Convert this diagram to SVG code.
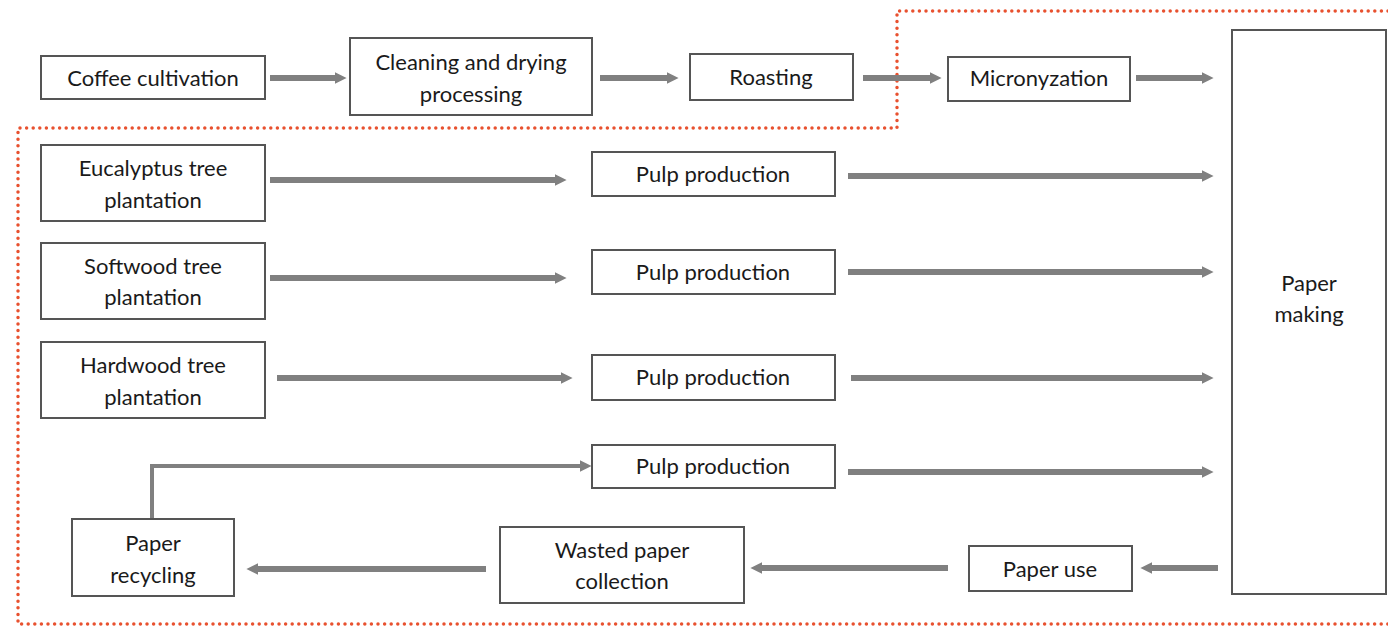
<svg xmlns="http://www.w3.org/2000/svg" width="1388" height="628" viewBox="0 0 1388 628">
<defs>
<style>
.box{fill:#fff;stroke:#555;stroke-width:2}
.t{font-family:Lato,"Open Sans","Liberation Sans",sans-serif;font-size:22px;fill:#1a1a1a;text-anchor:middle;dominant-baseline:central}
.a{stroke:#808080;stroke-width:6;fill:none;marker-end:url(#ah)}
.thin{stroke:#808080;stroke-width:4;fill:none}
.dot{fill:none;stroke:#e8512f;stroke-width:3.5;stroke-linecap:round;stroke-dasharray:0 6.6}
</style>
<marker id="ah" viewBox="0 0 10 10" refX="2" refY="5" markerWidth="2" markerHeight="2" orient="auto" markerUnits="strokeWidth">
<path d="M0,0 L10,5 L0,10 Z" fill="#808080"/>
</marker>
<marker id="ah2" viewBox="0 0 10 10" refX="2" refY="5" markerWidth="3" markerHeight="3" orient="auto" markerUnits="strokeWidth">
<path d="M0,0 L10,5 L0,10 Z" fill="#808080"/>
</marker>
</defs>
<rect width="1388" height="628" fill="#fff"/>
<g id="boundary">
<path class="dot" d="M1388,11 L897,11 L897,128 L18,128 L18,624 L1388,624"/>
</g>
<g id="connectors">
<line class="a" x1="270" y1="78" x2="337" y2="78"/>
<line class="a" x1="600" y1="78" x2="669" y2="78"/>
<line class="a" x1="863" y1="78" x2="932" y2="78"/>
<line class="a" x1="1136" y1="78" x2="1204" y2="78"/>
<line class="a" x1="270" y1="180" x2="557" y2="180"/>
<line class="a" x1="848" y1="176" x2="1204" y2="176"/>
<line class="a" x1="270" y1="278" x2="557" y2="278"/>
<line class="a" x1="848" y1="272" x2="1204" y2="272"/>
<line class="a" x1="277" y1="378" x2="563" y2="378"/>
<line class="a" x1="851" y1="378" x2="1204" y2="378"/>
<line class="a" x1="848" y1="472" x2="1204" y2="472"/>
<path class="thin" d="M152,519 L152,466 L582,466" marker-end="url(#ah2)"/>
<line class="a" x1="1218" y1="568" x2="1150" y2="568"/>
<line class="a" x1="948" y1="568" x2="760" y2="568"/>
<line class="a" x1="486" y1="569" x2="256" y2="569"/>
</g>
<g id="coffee-cultivation"><rect class="box" x="41" y="56" width="224" height="43"/><text class="t" x="153" y="77">Coffee cultivation</text></g>
<g id="cleaning"><rect class="box" x="350" y="38" width="242" height="77"/><text class="t" x="471" y="61">Cleaning and drying</text><text class="t" x="471" y="93">processing</text></g>
<g id="roasting"><rect class="box" x="690" y="54" width="163" height="46"/><text class="t" x="771" y="76">Roasting</text></g>
<g id="micronyzation"><rect class="box" x="948" y="57" width="182" height="44"/><text class="t" x="1039" y="77">Micronyzation</text></g>
<g id="paper-making"><rect class="box" x="1232" y="30" width="154" height="564"/><text class="t" x="1309" y="282">Paper</text><text class="t" x="1309" y="313">making</text></g>
<g id="eucalyptus"><rect class="box" x="41" y="145" width="224" height="76"/><text class="t" x="153" y="167">Eucalyptus tree</text><text class="t" x="153" y="199">plantation</text></g>
<g id="softwood"><rect class="box" x="41" y="243" width="224" height="76"/><text class="t" x="153" y="265">Softwood tree</text><text class="t" x="153" y="296">plantation</text></g>
<g id="hardwood"><rect class="box" x="41" y="342" width="224" height="76"/><text class="t" x="153" y="364">Hardwood tree</text><text class="t" x="153" y="396">plantation</text></g>
<g id="pulp1"><rect class="box" x="592" y="152" width="243" height="44"/><text class="t" x="713" y="173">Pulp production</text></g>
<g id="pulp2"><rect class="box" x="592" y="250" width="243" height="44"/><text class="t" x="713" y="271">Pulp production</text></g>
<g id="pulp3"><rect class="box" x="592" y="355" width="243" height="45"/><text class="t" x="713" y="376">Pulp production</text></g>
<g id="pulp4"><rect class="box" x="592" y="445" width="243" height="43"/><text class="t" x="713" y="465">Pulp production</text></g>
<g id="paper-recycling"><rect class="box" x="72" y="519" width="162" height="77"/><text class="t" x="153" y="542">Paper</text><text class="t" x="153" y="574">recycling</text></g>
<g id="wasted-paper"><rect class="box" x="500" y="527" width="244" height="76"/><text class="t" x="622" y="549">Wasted paper</text><text class="t" x="622" y="580">collection</text></g>
<g id="paper-use"><rect class="box" x="969" y="546" width="163" height="45"/><text class="t" x="1050" y="568">Paper use</text></g>
</svg>
